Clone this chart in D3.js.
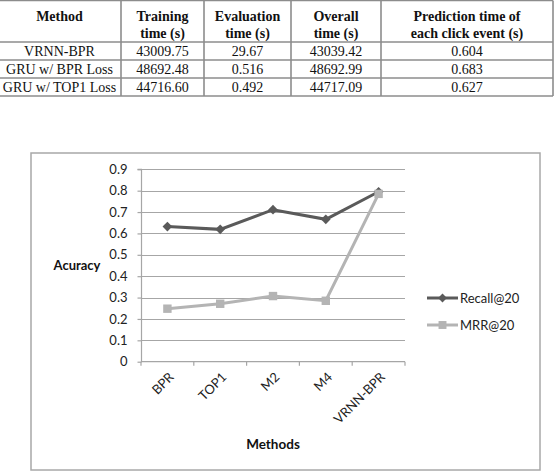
<!DOCTYPE html>
<html>
<head>
<meta charset="utf-8">
<script src="https://cdn.jsdelivr.net/npm/d3@7"></script>
<style>
html,body{margin:0;padding:0;background:#fff;}
svg{display:block;}
</style>
</head>
<body>
<svg id="c" width="554" height="472"></svg>
<script>
// ---- table data ----
const tableHeaders = [["Method"], ["Training", "time (s)"], ["Evaluation", "time (s)"], ["Overall", "time (s)"], ["Prediction time of", "each click event (s)"]];
const tableMethods = ["VRNN-BPR", "GRU w/ BPR Loss", "GRU w/ TOP1 Loss"];
const trainingTime = ["43009.75", "48692.48", "44716.60"];
const evaluationTime = ["29.67", "0.516", "0.492"];
const overallTime = ["43039.42", "48692.99", "44717.09"];
const predictionTime = ["0.604", "0.683", "0.627"];

// ---- chart data ----
const methods = ["BPR", "TOP1", "M2", "M4", "VRNN-BPR"];
const recall = [0.632, 0.619, 0.711, 0.666, 0.795];
const mrr = [0.248, 0.271, 0.307, 0.285, 0.785];
const yTicks = [0, 0.1, 0.2, 0.3, 0.4, 0.5, 0.6, 0.7, 0.8, 0.9];
const seriesNames = ["Recall@20", "MRR@20"];

const svg = d3.select("#c");

// ================= TABLE =================
const colEdges = [-2, 121, 204, 291, 381, 553];
const rowEdges = [0.5, 42, 60, 78, 96];
const tCol = "#8c8c8c";
const tg = svg.append("g");
const colX = d3.scaleOrdinal().domain(d3.range(5)).range(d3.range(5).map(i => (colEdges[i] + colEdges[i + 1]) / 2));
colX.domain(d3.range(5));
// horizontal lines
tg.selectAll("line.h").data(rowEdges).join("line")
  .attr("x1", colEdges[0]).attr("x2", colEdges[5])
  .attr("y1", d => d).attr("y2", d => d)
  .attr("stroke", tCol).attr("stroke-width", 1.6);
// vertical lines
tg.selectAll("line.v").data(colEdges.slice(1)).join("line")
  .attr("x1", d => d).attr("x2", d => d)
  .attr("y1", rowEdges[0]).attr("y2", rowEdges[4])
  .attr("stroke", tCol).attr("stroke-width", 1.6);
// header text
tableHeaders.forEach((lines, i) => {
  lines.forEach((t, j) => {
    tg.append("text").attr("x", colX(i)).attr("y", 16 + j * 17).attr("dy", "0.35em")
      .attr("text-anchor", "middle").attr("font-family", "Liberation Serif, Times New Roman, serif")
      .attr("font-weight", "bold").attr("font-size", 14).attr("fill", "#111").text(t);
  });
});
const rowsData = tableMethods.map((m, i) => [m, trainingTime[i], evaluationTime[i], overallTime[i], predictionTime[i]]);
rowsData.forEach((row, r) => {
  row.forEach((t, i) => {
    tg.append("text").attr("x", colX(i)).attr("y", (rowEdges[r + 1] + rowEdges[r + 2]) / 2 + 0.5).attr("dy", "0.35em")
      .attr("text-anchor", "middle").attr("font-family", "Liberation Serif, Times New Roman, serif")
      .attr("font-size", 14).attr("fill", "#111").text(t);
  });
});

// ================= CHART =================
const font = "Lato, 'Open Sans', sans-serif";
const frameCol = "#a8a8a8";
svg.append("rect").attr("x", 31).attr("y", 153).attr("width", 509).attr("height", 317)
  .attr("fill", "#fff").attr("stroke", frameCol).attr("stroke-width", 1.5);

const x = d3.scaleBand().domain(methods).range([141, 405]).padding(0);
const y = d3.scaleLinear().domain([0, 0.9]).range([361.7, 169.3]);
const gridCol = "#a6a6a6";

// gridlines
svg.append("g").selectAll("line").data(yTicks.filter(d => d > 0)).join("line")
  .attr("x1", 141).attr("x2", 405).attr("y1", d => Math.round(y(d)) + 0.5).attr("y2", d => Math.round(y(d)) + 0.5)
  .attr("stroke", gridCol).attr("stroke-width", 1.2);

// y axis
const yAxis = svg.append("g").attr("transform", "translate(141.5,0)")
  .call(d3.axisLeft(y).tickValues(yTicks).tickFormat(d3.format("")).tickSize(4).tickPadding(10));
yAxis.select(".domain").attr("stroke", gridCol).attr("stroke-width", 1.2).attr("d", `M-4,${y(0.9)}H0V${y(0)}`);
yAxis.selectAll(".tick line").attr("stroke", gridCol).attr("stroke-width", 1.2);
yAxis.selectAll(".tick text").attr("font-family", font).attr("font-size", 13).attr("fill", "#222");

// x axis line
const xAxisG = svg.append("g");
xAxisG.append("line").attr("x1", 141).attr("x2", 405).attr("y1", y(0)).attr("y2", y(0))
  .attr("stroke", gridCol).attr("stroke-width", 1.2);
const boundaries = methods.map(m => x(m)).concat([x.range()[1]]);
xAxisG.selectAll("line.t").data(boundaries).join("line")
  .attr("x1", d => d).attr("x2", d => d).attr("y1", y(0)).attr("y2", y(0) + 4)
  .attr("stroke", gridCol).attr("stroke-width", 1.2);
xAxisG.selectAll("text").data(methods).join("text")
  .attr("transform", d => `translate(${x(d) + x.bandwidth() / 2 + 4},${y(0) + 13}) rotate(-45)`)
  .attr("text-anchor", "end").attr("dy", "0.35em")
  .attr("font-family", font).attr("font-size", 13).attr("fill", "#222").text(d => d);

// axis titles
svg.append("text").attr("x", 77).attr("y", 265).attr("dy", "0.35em").attr("text-anchor", "middle")
  .attr("font-family", font).attr("font-weight", "bold").attr("font-size", 13).attr("fill", "#111").text("Acuracy");
svg.append("text").attr("x", 273).attr("y", 444).attr("dy", "0.35em").attr("text-anchor", "middle")
  .attr("font-family", font).attr("font-weight", "bold").attr("font-size", 13.5).attr("fill", "#111").text("Methods");

// series
const cx = d => x(d) + x.bandwidth() / 2;
const line = d3.line().x(d => cx(d[0])).y(d => y(d[1]));
const recallCol = "#5a5a5a", mrrCol = "#b4b4b4";
const mrrPts = methods.map((m, i) => [m, mrr[i]]);
const recPts = methods.map((m, i) => [m, recall[i]]);
const diamond = d3.symbol().type(d3.symbolDiamond2).size(60);
const square = d3.symbol().type(d3.symbolSquare2).size(90);

svg.append("path").datum(recPts).attr("d", line).attr("fill", "none").attr("stroke", recallCol).attr("stroke-width", 3);
svg.append("g").selectAll("path").data(recPts).join("path")
  .attr("transform", d => `translate(${cx(d[0])},${y(d[1])})`).attr("d", diamond).attr("fill", recallCol);
svg.append("path").datum(mrrPts).attr("d", line).attr("fill", "none").attr("stroke", mrrCol).attr("stroke-width", 3);
svg.append("g").selectAll("path").data(mrrPts).join("path")
  .attr("transform", d => `translate(${cx(d[0])},${y(d[1])})`).attr("d", square).attr("fill", mrrCol);

// legend
const leg = svg.append("g");
const legCols = [recallCol, mrrCol];
const legSyms = [d3.symbol().type(d3.symbolDiamond2).size(50), d3.symbol().type(d3.symbolSquare2).size(80)];
seriesNames.forEach((n, i) => {
  const ly = 298 + i * 27;
  leg.append("line").attr("x1", 427).attr("x2", 458).attr("y1", ly).attr("y2", ly).attr("stroke", legCols[i]).attr("stroke-width", 3);
  leg.append("path").attr("transform", `translate(442.5,${ly})`).attr("d", legSyms[i]).attr("fill", legCols[i]);
  leg.append("text").attr("x", 460).attr("y", ly).attr("dy", "0.35em").attr("font-family", font).attr("font-size", 13).attr("fill", "#222").text(n);
});
</script>
</body>
</html>
